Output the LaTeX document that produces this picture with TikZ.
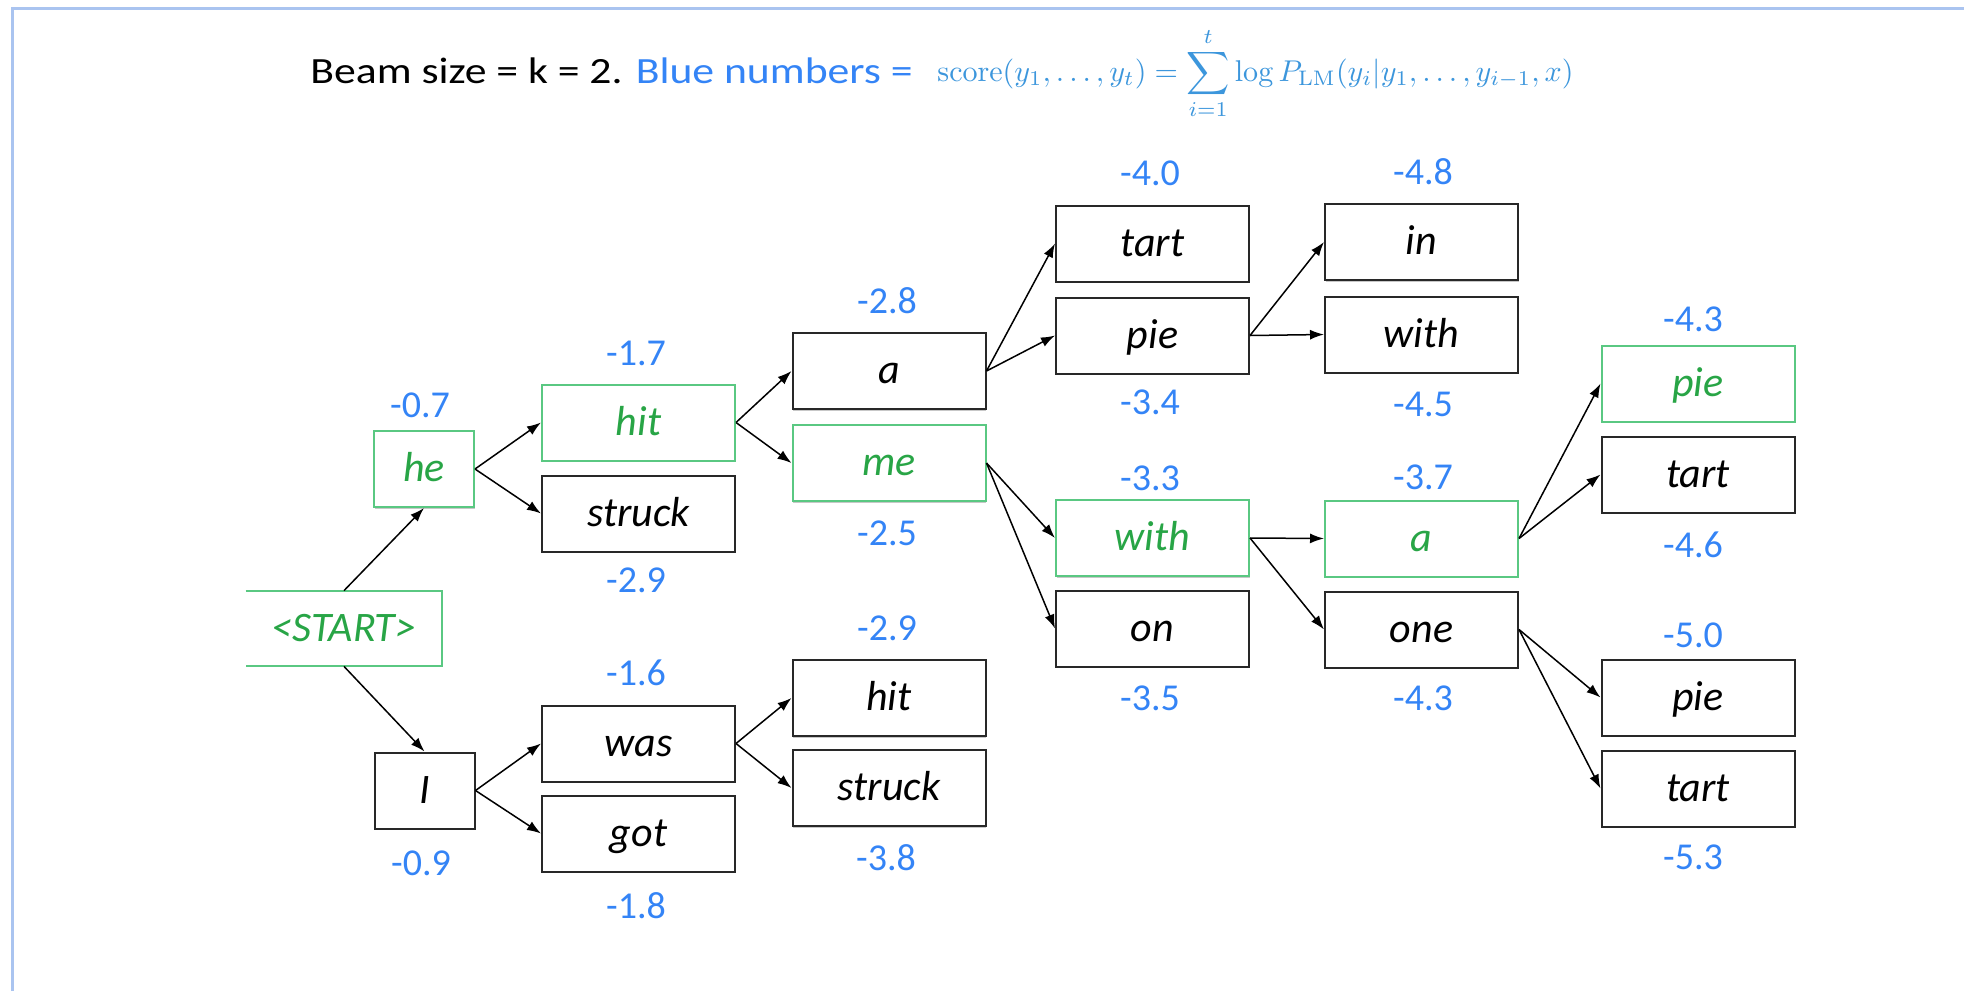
\documentclass[tikz,border=0pt]{standalone}
\usepackage[no-math]{fontspec}
\setmainfont{Carlito}
\usepackage{graphicx}
\usetikzlibrary{arrows.meta,shadows}
\definecolor{scoreblue}{RGB}{52,132,246}
\definecolor{formblue}{RGB}{60,150,220}
\definecolor{beamgreen}{RGB}{40,165,70}
\definecolor{boxgreen}{RGB}{90,200,130}
\definecolor{framebl}{RGB}{170,196,240}
\definecolor{boxgray}{RGB}{40,40,40}
\begin{document}
\begin{tikzpicture}[x=0.5pt,y=-0.5pt,
  wordtext/.style={rectangle, minimum width=96.5pt, minimum height=38pt, inner sep=0pt,
    font=\fontsize{21}{25}\selectfont\itshape, text height=16.8pt, text depth=4.2pt},
  word/.style={wordtext, draw=boxgray, fill=white, line width=1pt,
    drop shadow={shadow xshift=0.3pt, shadow yshift=-0.9pt, fill=black, opacity=0.22}},
  smallword/.style={word, minimum width=50pt},
  kept/.style={draw=boxgreen, text=beamgreen},
  score/.style={text=scoreblue, font=\fontsize{19}{22}\selectfont, inner sep=0pt},
  edge/.style={-{Latex[length=7pt,width=5pt]}, line width=0.75pt, black}]
\useasboundingbox (0,0) rectangle (1964,991);
\draw[framebl, line width=1.5pt] (12,991) -- (12,8) -- (1964,8);

% title
\node[anchor=base west, inner sep=0pt, font=\fontsize{18.5}{22}\selectfont] (title) at (310,83)
  {\scalebox{1.18}[1]{Beam size = k = 2. \textcolor{scoreblue}{Blue numbers =}}};
\node[anchor=base west, inner sep=0pt, text=formblue] (formula) at (937,81)
  {\resizebox{318pt}{!}{$\displaystyle \mathrm{score}(y_1,\ldots,y_t)=\sum_{i=1}^{t}\log P_{\mathrm{LM}}(y_i|y_1,\ldots,y_{i-1},x)$}};

% start
\node[wordtext, text=beamgreen, minimum width=98pt, minimum height=37.5pt] (start) at (344,628.5) {<START>};
\draw[boxgreen, line width=1pt] (start.north west) -- (start.north east) -- (start.south east) -- (start.south west);

% column 1
\node[smallword, kept] (he) at (424,469) {he};
\node[smallword] (I) at (424.5,790.5) {I};
% column 2
\node[word, kept] (hit1) at (638.5,422.5) {hit};
\node[word] (struck1) at (638.5,513.5) {struck};
\node[word] (was) at (638.5,743.5) {was};
\node[word] (got) at (638.5,833.5) {got};
% column 3
\node[word] (a1) at (889,371) {a};
\node[word, kept] (me) at (889,463) {me};
\node[word] (hit2) at (889,698) {hit};
\node[word] (struck2) at (889,788) {struck};
% column 4
\node[word] (tart1) at (1152.5,243.5) {tart};
\node[word] (pie1) at (1152.5,335.5) {pie};
\node[word, kept] (with1) at (1152.5,538) {with};
\node[word] (on) at (1152.5,628.5) {on};
% column 5
\node[word] (in) at (1421.5,242) {in};
\node[word] (with2) at (1421.5,334.5) {with};
\node[word, kept] (a2) at (1421.5,538.5) {a};
\node[word] (one) at (1421.5,629.5) {one};
% column 6
\node[word, kept] (pie2) at (1698,383.5) {pie};
\node[word] (tart2) at (1698,474.5) {tart};
\node[word] (pie3) at (1698,697.5) {pie};
\node[word] (tart3) at (1698,788.5) {tart};

% scores
\node[score] (s1) at (420,405) {-0.7};
\node[score] (s2) at (421,863) {-0.9};
\node[score] (s3) at (636,353) {-1.7};
\node[score] (s4) at (636,580) {-2.9};
\node[score] (s5) at (636,673) {-1.6};
\node[score] (s6) at (636,906) {-1.8};
\node[score] (s7) at (887,301) {-2.8};
\node[score] (s8) at (887,533) {-2.5};
\node[score] (s9) at (887,628) {-2.9};
\node[score] (s10) at (886,858) {-3.8};
\node[score] (s11) at (1150,173) {-4.0};
\node[score] (s12) at (1150,402) {-3.4};
\node[score] (s13) at (1150,478) {-3.3};
\node[score] (s14) at (1150,698) {-3.5};
\node[score] (s15) at (1423,172) {-4.8};
\node[score] (s16) at (1423,404) {-4.5};
\node[score] (s17) at (1423,477) {-3.7};
\node[score] (s18) at (1423,698) {-4.3};
\node[score] (s19) at (1693,319) {-4.3};
\node[score] (s20) at (1693,545) {-4.6};
\node[score] (s21) at (1693,635) {-5.0};
\node[score] (s22) at (1693,857) {-5.3};

% edges
\draw[edge] (start.north) -- (he.south);
\draw[edge] (start.south) -- (I.north);
\draw[edge] (he.east) -- (hit1.west);
\draw[edge] (he.east) -- (struck1.west);
\draw[edge] (I.east) -- (was.west);
\draw[edge] (I.east) -- (got.west);
\draw[edge] (hit1.east) -- (a1.west);
\draw[edge] (hit1.east) -- (me.west);
\draw[edge] (was.east) -- (hit2.west);
\draw[edge] (was.east) -- (struck2.west);
\draw[edge] (a1.east) -- (tart1.west);
\draw[edge] (a1.east) -- (pie1.west);
\draw[edge] (me.east) -- (with1.west);
\draw[edge] (me.east) -- (on.west);
\draw[edge] (pie1.east) -- (in.west);
\draw[edge] (pie1.east) -- (with2.west);
\draw[edge] (with1.east) -- (a2.west);
\draw[edge] (with1.east) -- (one.west);
\draw[edge] (a2.east) -- (pie2.west);
\draw[edge] (a2.east) -- (tart2.west);
\draw[edge] (one.east) -- (pie3.west);
\draw[edge] (one.east) -- (tart3.west);
\end{tikzpicture}
\end{document}
